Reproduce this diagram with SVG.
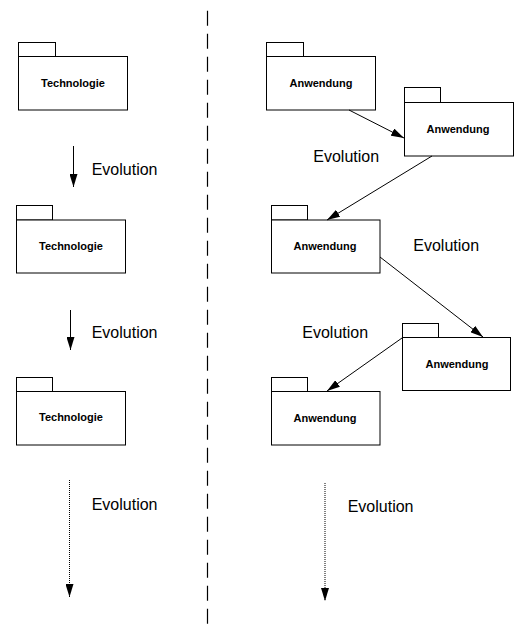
<svg xmlns="http://www.w3.org/2000/svg" width="515" height="630" viewBox="0 0 515 630">
<style>
.box{fill:#fff;stroke:#000;stroke-width:1}
.lbl{font-family:"Liberation Sans",Arial,sans-serif;font-size:11px;font-weight:bold;text-anchor:middle;fill:#000}
.evo{font-family:"Liberation Sans",Arial,sans-serif;font-size:16px;fill:#000}
.arr{stroke:#000;stroke-width:1;fill:none;marker-end:url(#ah)}
.dot{stroke:#000;stroke-width:1;fill:none;stroke-dasharray:1 1;marker-end:url(#ah)}
</style>
<defs>
<marker id="ah" viewBox="0 0 13 8" refX="13" refY="4" markerWidth="13" markerHeight="8" markerUnits="userSpaceOnUse" orient="auto">
<path d="M0,0 L13,4 L0,8 z" fill="#000"/>
</marker>
</defs>
<rect width="515" height="630" fill="#fff"/>
<line x1="207.5" y1="10.7" x2="207.5" y2="630" stroke="#000" stroke-width="1.2" stroke-dasharray="15 8"/>
<g id="tech1"><rect class="box" x="18.5" y="42.5" width="37" height="14"/><rect class="box" x="18.5" y="56.5" width="109" height="53.5"/><text class="lbl" x="73" y="87">Technologie</text></g>
<g id="tech2"><rect class="box" x="16.5" y="205.5" width="36" height="14.5"/><rect class="box" x="16.5" y="220" width="109" height="53"/><text class="lbl" x="71" y="250">Technologie</text></g>
<g id="tech3"><rect class="box" x="16.5" y="377.5" width="36" height="14"/><rect class="box" x="16.5" y="391.5" width="109" height="53.5"/><text class="lbl" x="71" y="421">Technologie</text></g>
<g id="anw1"><rect class="box" x="266.5" y="42.5" width="37" height="14"/><rect class="box" x="266.5" y="56.5" width="109" height="53.5"/><text class="lbl" x="321" y="87">Anwendung</text></g>
<g id="anw2"><rect class="box" x="404.5" y="87.5" width="36" height="15"/><rect class="box" x="404.5" y="102.5" width="109" height="53.5"/><text class="lbl" x="458" y="133">Anwendung</text></g>
<g id="anw3"><rect class="box" x="271.5" y="205.5" width="36" height="14.5"/><rect class="box" x="271.5" y="220" width="108.5" height="53"/><text class="lbl" x="325" y="250">Anwendung</text></g>
<g id="anw4"><rect class="box" x="402.5" y="323.5" width="36" height="14"/><rect class="box" x="402.5" y="337.5" width="108" height="53"/><text class="lbl" x="457" y="368">Anwendung</text></g>
<g id="anw5"><rect class="box" x="271.5" y="377.5" width="36" height="14"/><rect class="box" x="271.5" y="391.5" width="108.5" height="53.5"/><text class="lbl" x="325" y="422">Anwendung</text></g>
<g id="connectors">
<line class="arr" x1="73.5" y1="146" x2="73.5" y2="187"/>
<line class="arr" x1="70.5" y1="310" x2="70.5" y2="350"/>
<line class="dot" x1="69.5" y1="480" x2="69.5" y2="597"/>
<line class="dot" x1="325" y1="483" x2="325" y2="601"/>
<line class="arr" x1="349" y1="110" x2="404" y2="138"/>
<line class="arr" x1="432" y1="156" x2="327" y2="220"/>
<line class="arr" x1="380" y1="257" x2="483" y2="337"/>
<line class="arr" x1="402" y1="338" x2="327" y2="391"/>
</g>
<g id="labels">
<text class="evo" x="91.7" y="175">Evolution</text>
<text class="evo" x="91.7" y="338">Evolution</text>
<text class="evo" x="91.7" y="510">Evolution</text>
<text class="evo" x="313.3" y="162">Evolution</text>
<text class="evo" x="413.3" y="251">Evolution</text>
<text class="evo" x="302.3" y="338">Evolution</text>
<text class="evo" x="347.7" y="512">Evolution</text>
</g>
</svg>
